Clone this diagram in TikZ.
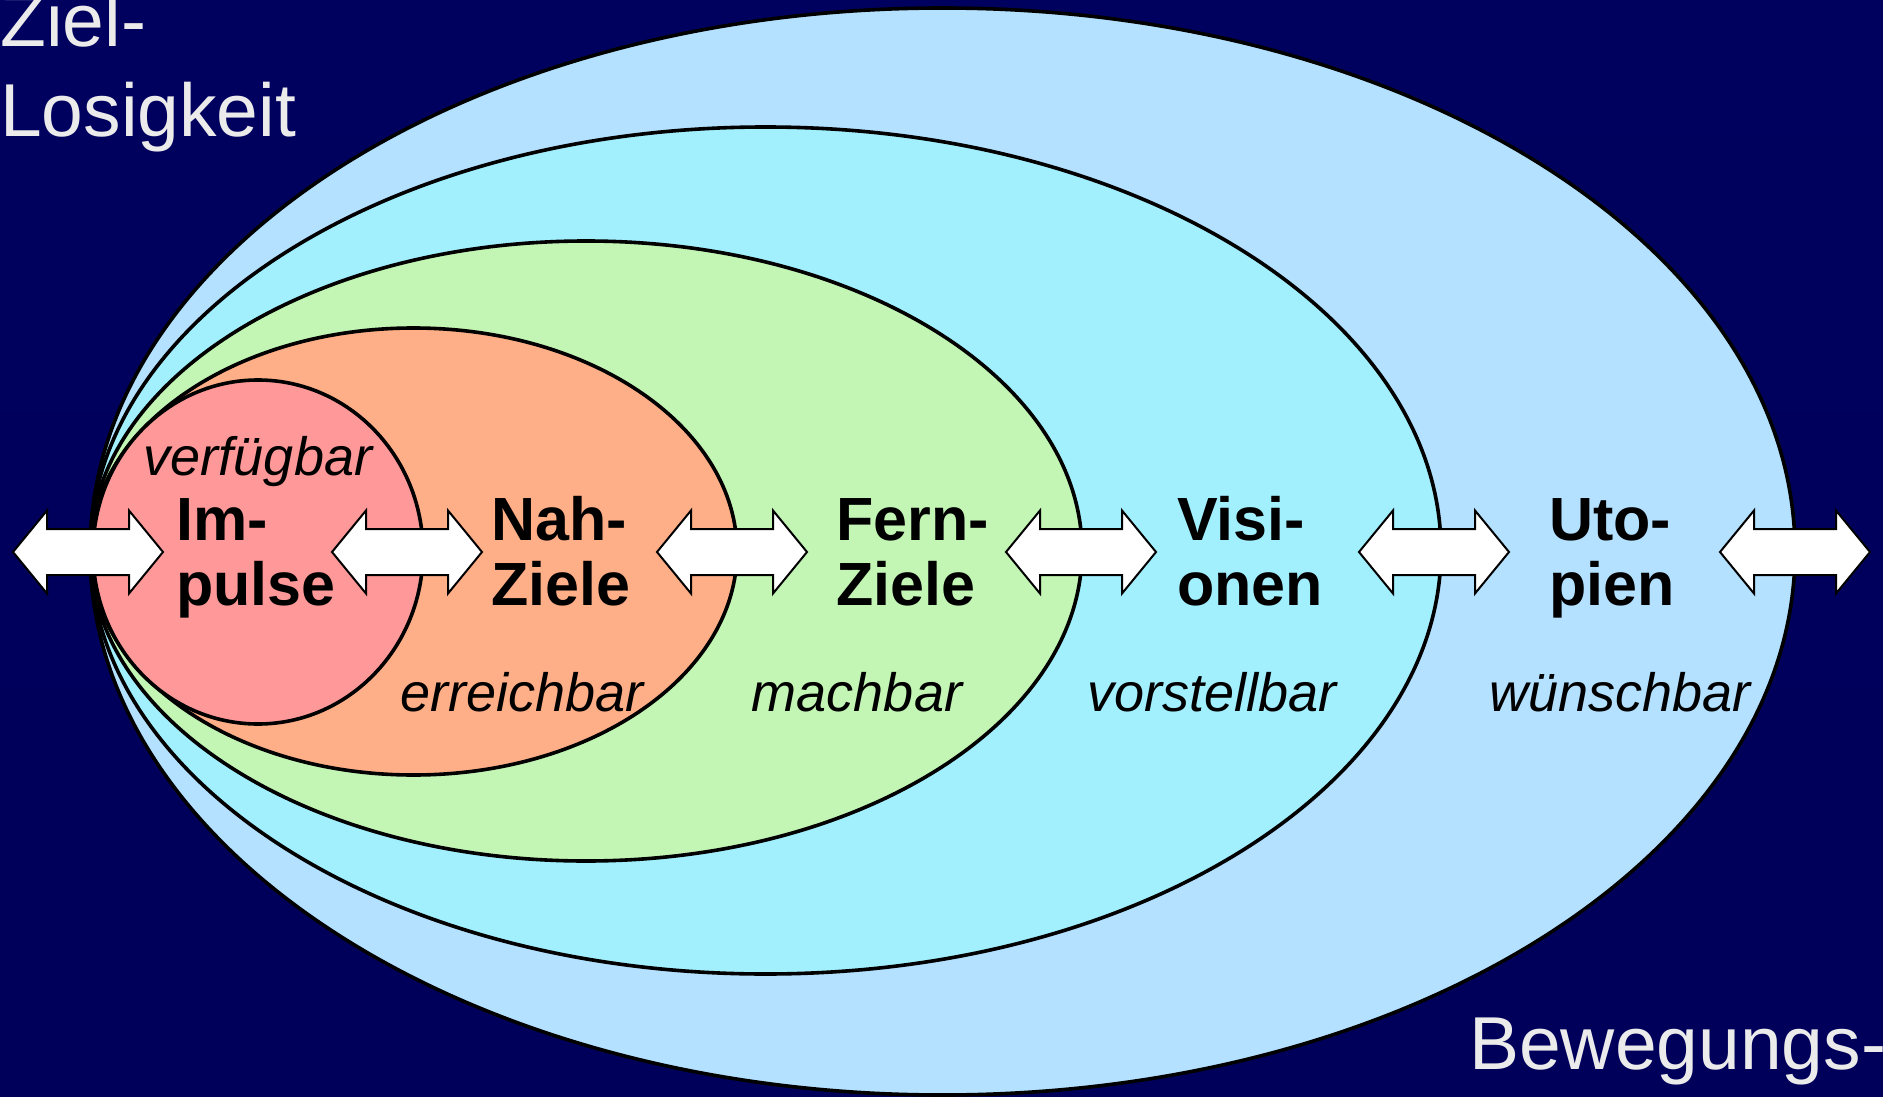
\documentclass[tikz,border=0pt]{standalone}
\usepackage{fontspec}
\setmainfont{Liberation Sans}
\begin{document}
\begin{tikzpicture}[x=1pt,y=-1pt,
  ring/.style={draw=black,line width=3.6pt},
  arrowline/.style={draw=black,fill=white,line width=2pt,line join=miter},
  boldlbl/.style={font=\fontsize{61}{67}\selectfont\bfseries,text=black,inner sep=0pt,anchor=base west},
  itlbl/.style={font=\fontsize{54}{62}\selectfont\itshape,text=black,inner sep=0pt,anchor=base},
  whitelbl/.style={font=\fontsize{75}{88}\selectfont,text=white!92!black,inner sep=0pt,anchor=base west},
  pics/dblarrow/.style={code={
    \path[arrowline] (-75,0) -- (-41,-41.5) -- (-41,-23) -- (41,-23) -- (41,-41.5)
      -- (75,0) -- (41,41.5) -- (41,23) -- (-41,23) -- (-41,41.5) -- cycle;}}
]
\definecolor{bgtop}{HTML}{00005E}
\definecolor{bgmid}{HTML}{000078}
\definecolor{bgbot}{HTML}{00005A}
\definecolor{cUto}{HTML}{B3E1FF}
\definecolor{cVis}{HTML}{A2EFFE}
\definecolor{cFern}{HTML}{C3F5B5}
\definecolor{cNah}{HTML}{FFAF87}
\definecolor{cImp}{HTML}{FF9999}
\useasboundingbox (0,0) rectangle (1883,1097);
\shade[top color=bgtop,middle color=bgmid,bottom color=bgbot] (0,0) rectangle (1883,1097);
% rings
\path[ring,fill=cUto] (942.5,551.5) ellipse [x radius=852.5pt,y radius=543.5pt];
\path[ring,fill=cVis] (765.5,550.5) ellipse [x radius=675.5pt,y radius=423.5pt];
\path[ring,fill=cFern] (586,551) ellipse [x radius=496pt,y radius=310pt];
\path[ring,fill=cNah] (413.5,551.5) ellipse [x radius=323.5pt,y radius=223.5pt];
\path[ring,fill=cImp] (258,552) ellipse [x radius=165pt,y radius=172pt];
% arrows
\pic at (88,552) {dblarrow};
\pic at (407,552) {dblarrow};
\pic at (732,552) {dblarrow};
\pic at (1081,552) {dblarrow};
\pic at (1434,552) {dblarrow};
\pic at (1795,552) {dblarrow};
% bold labels
\node[boldlbl] (imp1) at (176,540) {Im-};
\node[boldlbl] (imp2) at (176,605) {pulse};
\node[boldlbl] (nah1) at (491,540) {Nah-};
\node[boldlbl] (nah2) at (491,605) {Ziele};
\node[boldlbl] (fern1) at (836,540) {Fern-};
\node[boldlbl] (fern2) at (836,605) {Ziele};
\node[boldlbl] (vis1) at (1177,540) {Visi-};
\node[boldlbl] (vis2) at (1177,605) {onen};
\node[boldlbl] (uto1) at (1549,540) {Uto-};
\node[boldlbl] (uto2) at (1549,605) {pien};
% italic labels
\node[itlbl] (verf) at (258,475) {verfügbar};
\node[itlbl] (erre) at (522,711) {erreichbar};
\node[itlbl] (mach) at (857,711) {machbar};
\node[itlbl] (vors) at (1212,711) {vorstellbar};
\node[itlbl] (wuen) at (1620,711) {wünschbar};
% white corner labels
\node[whitelbl] (ziel) at (0,47) {Ziel-};
\node[whitelbl] (losig) at (0,137) {Losigkeit};
\node[whitelbl] (beweg) at (1469,1069) {Bewegungs-};
\end{tikzpicture}
\end{document}
